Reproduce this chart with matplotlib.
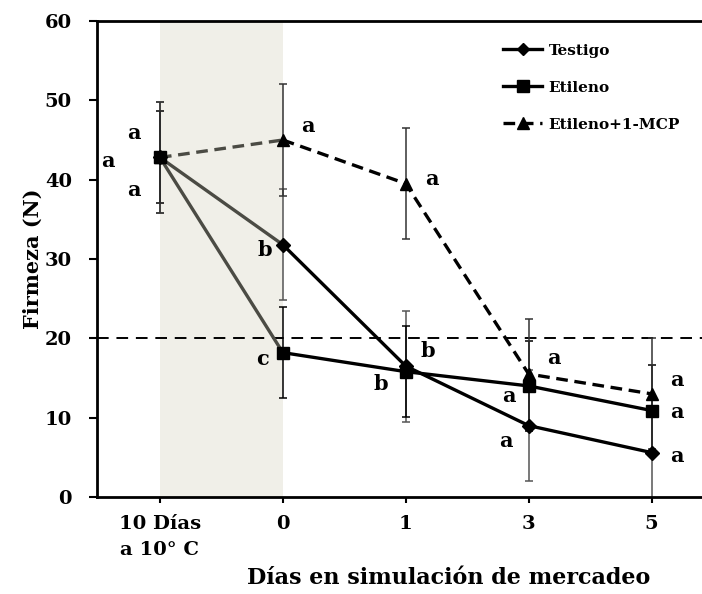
import matplotlib.pyplot as plt
from matplotlib.lines import Line2D

# firmness (N) per sampling point
positions = [0, 1, 2, 3, 4]
tick_labels = ['10 Días\na 10° C', '0', '1', '3', '5']

testigo = [42.8, 31.8, 16.5, 9.0, 5.6]
testigo_err = [7.0, 7.0, 7.0, 7.0, 7.0]
testigo_letters = ['a', 'b', 'b', 'a', 'a']

etileno = [42.8, 18.2, 15.8, 14.0, 10.9]
etileno_err = [5.8, 5.7, 5.7, 5.7, 5.7]
etileno_letters = ['a', 'c', 'b', 'a', 'a']

mcp = [42.8, 45.0, 39.5, 15.5, 13.0]
mcp_err = [7.0, 7.0, 7.0, 7.0, 7.0]
mcp_letters = ['a', 'a', 'a', 'a', 'a']

threshold = 20

plt.rcParams['font.family'] = ['DejaVu Serif']
plt.rcParams['font.weight'] = 'bold'

fig = plt.figure(figsize=(7.02, 5.94), dpi=100)
ax = fig.add_axes([97 / 702, 1 - 497 / 594, 1 - 97 / 702, (497 - 21) / 594])

grey = '#4b4b44'
dash = (0, (3.5, 2))

# storage period shading
ax.axvspan(positions[0], positions[1], color='#f0efe8', zorder=0, lw=0)
ax.axhline(threshold, color='black', lw=1.4, ls=(0, (6, 4)), zorder=1)

series = [
    (testigo, testigo_err, 'D', '-', 7, '#555555'),
    (etileno, etileno_err, 's', '-', 8.5, 'black'),
    (mcp, mcp_err, '^', dash, 8.5, '#333333'),
]
for vals, err, mk, ls, ms, ecol in series:
    ax.errorbar(positions, vals, yerr=err, fmt='none', ecolor=ecol,
                elinewidth=1.1, capsize=3, capthick=1.1, zorder=2)
    ax.plot(positions[:2], vals[:2], color=grey, lw=2.4, ls=ls, zorder=3)
    ax.plot(positions[1:], vals[1:], color='black', lw=2.4, ls=ls, zorder=3)
    ax.plot(positions, vals, ls='none', marker=mk, ms=ms, color='black', zorder=4)

# significance letters, offsets in pixels from each point
letter_sets = [
    (testigo, testigo_letters, [(-26, 24), (-18, -5), (22, 15), (-23, -15), (25, -3)]),
    (etileno, etileno_letters, [(-52, -4), (-20, -6), (-25, -12), (-20, -10), (25, -1)]),
    (mcp, mcp_letters, [(-26, -33), (25, 14), (26, 5), (25, 16), (25, 14)]),
]
for vals, letters, offs in letter_sets:
    for x, y, lt, off in zip(positions, vals, letters, offs):
        ax.annotate(lt, (x, y), xytext=off, textcoords='offset pixels',
                    ha='center', va='center', fontsize=15, fontweight='bold')

ax.set_xlim(-0.512, 4.41)
ax.set_ylim(0, 60)
ax.set_yticks(range(0, 61, 10))
ax.set_xticks(positions)
ax.set_xticklabels(tick_labels, fontsize=14, fontweight='bold', linespacing=1.6)
ax.tick_params(axis='y', labelsize=14, length=6, width=1.5, pad=12, direction='out')
ax.tick_params(axis='x', length=4, width=1.5, pad=9, direction='out')
for s in ['left', 'bottom', 'top']:
    ax.spines[s].set_linewidth(2)
ax.spines['right'].set_visible(False)

ax.set_ylabel('Firmeza (N)', fontsize=15, fontweight='bold')
ax.yaxis.set_label_coords(-0.09, 0.5)
fig.text(449 / 702, 1 - 578 / 594, 'Días en simulación de mercadeo',
         ha='center', va='center', fontsize=16, fontweight='bold')

handles = [
    Line2D([], [], color='black', lw=2.4, marker='D', ms=6),
    Line2D([], [], color='black', lw=2.4, marker='s', ms=8),
    Line2D([], [], color='black', lw=2.4, ls=dash, marker='^', ms=8),
]
ax.legend(handles, ['Testigo', 'Etileno', 'Etileno+1-MCP'], frameon=False,
          loc='upper left', bbox_to_anchor=(392 / 605, 1 - 9 / 476),
          handlelength=2.6, handletextpad=0.4, labelspacing=1.5,
          prop={'weight': 'bold', 'size': 11})

fig.savefig('out.png', dpi=100)
